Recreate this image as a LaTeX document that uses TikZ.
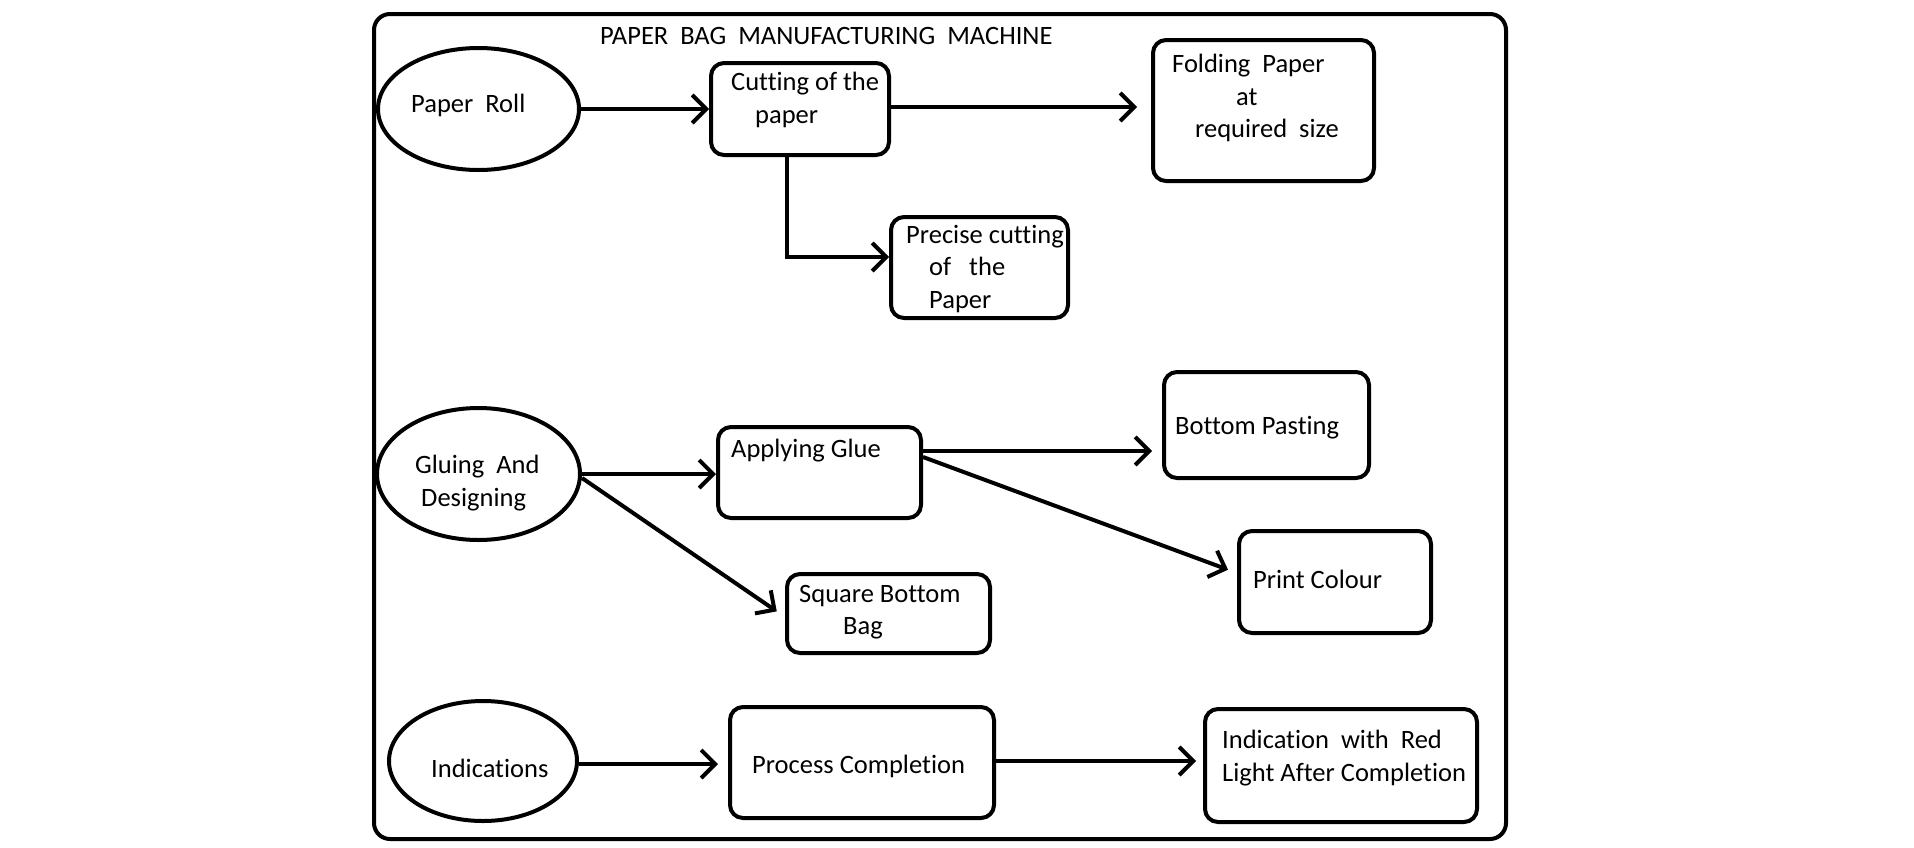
\documentclass[tikz,border=0pt]{standalone}
\usepackage{fontspec}
\setmainfont[Ligatures=NoCommon]{Carlito}
\usetikzlibrary{shapes.geometric,arrows.meta}
\begin{document}
\begin{tikzpicture}[x=1pt,y=-1pt,
  ln/.style={line width=4pt},
  box/.style={draw,line width=4pt,rounded corners=13pt,inner sep=0pt},
  oval/.style={draw,ellipse,line width=4pt,inner sep=0pt},
  txt/.style={anchor=base west,inner sep=0pt,font=\fontsize{26.5pt}{33pt}\selectfont},
  arr/.style={line width=4pt,-{Straight Barb[length=14pt,width=28pt]}},
]
\useasboundingbox (0,0) rectangle (1914,847);
\draw[ln,rounded corners=16pt] (374,14) rectangle (1506,839);

% shapes
\node[oval,minimum width=201pt,minimum height=122pt] (pr) at (478.5,109) {};
\node[oval,minimum width=203pt,minimum height=132pt] (gl) at (478.5,474) {};
\node[oval,minimum width=188pt,minimum height=120pt] (ind) at (483,761) {};

\node[box,minimum width=178pt,minimum height=92pt] (cut) at (800,109) {};
\node[box,minimum width=221pt,minimum height=141pt] (fold) at (1263.5,110.5) {};
\node[box,minimum width=177pt,minimum height=101pt] (prec) at (979.5,267.5) {};
\node[box,minimum width=203pt,minimum height=91pt] (app) at (819.5,472.5) {};
\node[box,minimum width=203pt,minimum height=79pt] (sq) at (888.5,613.5) {};
\node[box,minimum width=205pt,minimum height=106pt] (bp) at (1266.5,425) {};
\node[box,minimum width=192pt,minimum height=102pt] (pc) at (1335,582) {};
\node[box,minimum width=264pt,minimum height=111pt] (proc) at (862,762.5) {};
\node[box,minimum width=272pt,minimum height=113pt] (ibox) at (1341,765.5) {};

% texts
\node[txt] (title) at (600,44) {PAPER\ \ BAG\ \ MANUFACTURING\ \ MACHINE};
\node[txt] (t1) at (411,112) {Paper\ \ Roll};
\node[txt] (t2) at (731,90) {Cutting of the};
\node[txt] (t3) at (755,123) {paper};
\node[txt] (t4) at (1172,72) {Folding\ \ Paper};
\node[txt] (t5) at (1236,105) {at};
\node[txt] (t6) at (1195,137) {required\ \ size};
\node[txt] (t7) at (906,243) {Precise cutting};
\node[txt] (t8) at (929,275) {of\ \ \ the};
\node[txt] (t9) at (929,308) {Paper};
\node[txt] (t10) at (415,473) {Gluing\ \ And};
\node[txt] (t11) at (421,506) {Designing};
\node[txt] (t12) at (731,457) {Applying Glue};
\node[txt] (t13) at (799,602) {Square Bottom};
\node[txt] (t14) at (843,634) {Bag};
\node[txt] (t15) at (1175,434) {Bottom Pasting};
\node[txt] (t16) at (1253,588) {Print Colour};
\node[txt] (t17) at (431,777) {Indications};
\node[txt] (t18) at (752,773) {Process Completion};
\node[txt] (t19) at (1222,748) {Indication\ \ with\ \ Red};
\node[txt] (t20) at (1222,781) {Light After Completion};

% connectors
\draw[arr] (pr.east) -- (cut.west);
\draw[arr,shorten >=14pt] ([yshift=2pt]cut.east) -- ([yshift=2pt]cut.east -| fold.west);
\draw[arr] ([xshift=-13pt]cut.south) |- ([yshift=10.5pt]prec.west);
\draw[arr] (gl.east) -- (gl.east -| app.west);
\draw[arr,shorten >=10pt] ([yshift=-4pt]gl.east) -- ([yshift=-3.5pt]sq.west);
\draw[arr,shorten >=10pt] ([yshift=21.5pt]app.east) -- ([yshift=21.5pt]app.east -| bp.west);
\draw[arr,shorten >=9.6pt] ([yshift=15.5pt]app.east) -- ([yshift=9pt]pc.west);
\draw[arr,shorten >=10pt] ([yshift=-3pt]ind.east) -- ([yshift=-3pt]ind.east -| proc.west);
\draw[arr,shorten >=7pt] ([yshift=1.5pt]proc.east) -- ([yshift=1.5pt]proc.east -| ibox.west);
\end{tikzpicture}
\end{document}
